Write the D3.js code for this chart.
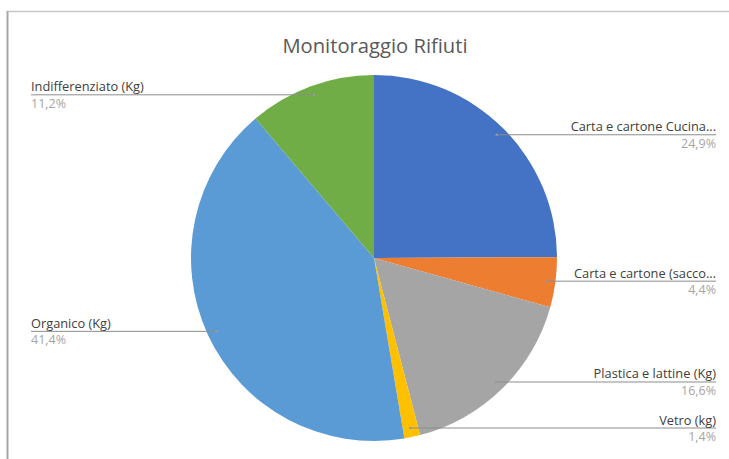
<!DOCTYPE html>
<html>
<head>
<meta charset="utf-8">
<script src="https://cdn.jsdelivr.net/npm/d3@7/dist/d3.min.js"></script>
<style>
  html, body { margin: 0; padding: 0; background: #fff; }
  svg { display: block; }
  text { font-family: "Open Sans", "Noto Sans", sans-serif; }
</style>
</head>
<body>
<svg id="chart" width="729" height="459"></svg>
<script>
const title = "Monitoraggio Rifiuti";
const categories = [
  "Carta e cartone Cucina...",
  "Carta e cartone (sacco...",
  "Plastica e lattine (Kg)",
  "Vetro (kg)",
  "Organico (Kg)",
  "Indifferenziato (Kg)"
];
const values = [24.9, 4.4, 16.6, 1.4, 41.4, 11.2];
const colors = ["#4472C4", "#ED7D31", "#A5A5A5", "#FFC000", "#5B9BD5", "#70AD47"];

const W = 729, H = 459;
const cx = 374, cy = 258, R = 183;
const rightX = 716, leftX = 31;

const svg = d3.select("#chart");

// chart frame
svg.append("line").attr("x1", 7.5).attr("x2", W).attr("y1", 11.5).attr("y2", 11.5)
  .attr("stroke", "#c8c8c8").attr("stroke-width", 1.5);
svg.append("line").attr("x1", 7.5).attr("x2", 7.5).attr("y1", 11).attr("y2", H)
  .attr("stroke", "#a8a8a8").attr("stroke-width", 2);

svg.append("text")
  .attr("x", 375).attr("y", 53)
  .attr("text-anchor", "middle")
  .attr("fill", "#595959")
  .attr("font-size", 20.2)
  .text(title);

const data = categories.map((c, i) => ({ name: c, value: values[i], color: colors[i] }));

const pie = d3.pie().value(d => d.value).sort(null);
const arcs = pie(data);
const arc = d3.arc().innerRadius(0).outerRadius(R);

const g = svg.append("g").attr("transform", `translate(${cx},${cy})`);
g.selectAll("path.slice").data(arcs).enter().append("path")
  .attr("class", "slice")
  .attr("d", arc)
  .attr("fill", d => d.data.color);

const fmt = v => d3.format(".1f")(v).replace(".", ",") + "%";

arcs.forEach(a => {
  const mid = (a.startAngle + a.endAngle) / 2;
  const r = R * 0.95;
  const px = cx + r * Math.sin(mid);
  const py = cy - r * Math.cos(mid);
  const right = Math.sin(mid) >= 0;
  const ex = right ? rightX : leftX;
  svg.append("line")
    .attr("x1", px).attr("y1", py).attr("x2", ex).attr("y2", py)
    .attr("stroke", "#8c8c8c").attr("stroke-width", 1);
  svg.append("circle").attr("cx", px).attr("cy", py).attr("r", 1.2).attr("fill", "#9a9a9a");
  svg.append("text")
    .attr("x", ex).attr("y", py - 3.5)
    .attr("text-anchor", right ? "end" : "start")
    .attr("fill", "#404040")
    .attr("font-size", 12.8)
    .attr("textLength", null)
    .text(a.data.name);
  svg.append("text")
    .attr("x", ex).attr("y", py + 13)
    .attr("text-anchor", right ? "end" : "start")
    .attr("fill", "#a6a6a6")
    .attr("font-size", 12.5)
    .text(fmt(a.data.value));
});
</script>
</body>
</html>
